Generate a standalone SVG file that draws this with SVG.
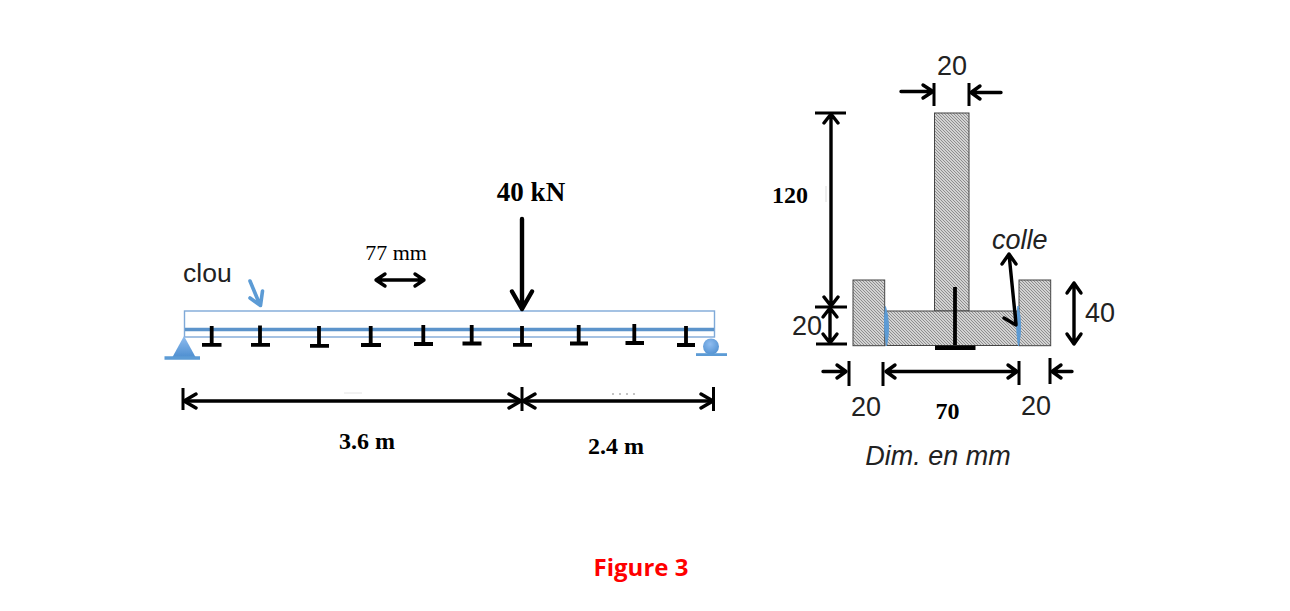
<svg xmlns="http://www.w3.org/2000/svg" width="1290" height="611" viewBox="0 0 1290 611">
<style>
.k{fill:none;stroke:#000;stroke-width:3.4;stroke-linecap:round;stroke-linejoin:round}
.t{fill:none;stroke:#000;stroke-width:3}
.n{fill:none;stroke:#000;stroke-width:3.8}
.sec{fill:url(#hatch);stroke:#444;stroke-width:1}
.sans{font-family:"Liberation Sans",Arial,sans-serif;font-size:27px;fill:#222}
.serif{font-family:"Liberation Serif","Times New Roman",serif;fill:#000}
.b{font-weight:bold}
.m{text-anchor:middle}
.blue{fill:#5b9bd5}
</style>
<defs>
<pattern id="hatch" width="3" height="3" patternUnits="userSpaceOnUse">
<rect width="3" height="3" fill="#d2d2d2"/>
<path d="M-1,-1L4,4M-1,2L1,4M2,-1L4,1" stroke="#777" stroke-width="0.75"/>
</pattern>
<radialGradient id="ball" cx="45%" cy="35%" r="70%"><stop offset="0" stop-color="#8fbdf0"/><stop offset="1" stop-color="#4f8fd0"/></radialGradient>
<linearGradient id="tri" x1="0" y1="0" x2="0" y2="1"><stop offset="0" stop-color="#8fbdf0"/><stop offset="1" stop-color="#4f8fd0"/></linearGradient>
<filter id="soft" x="-5%" y="-5%" width="110%" height="110%"><feGaussianBlur stdDeviation="0.5"/></filter>
</defs>

<g id="beam" filter="url(#soft)">
<rect x="184.500" y="311" width="530" height="26" fill="none" stroke="#7fa9d8" stroke-width="1.400"/>
<line x1="185" y1="329.500" x2="714" y2="329.500" stroke="#5b94cb" stroke-width="3.400"/>
</g>

<g id="nails" filter="url(#soft)">
<path class="n" d="M211.700,326V345M202,344.800H221.500"/>
<path class="n" d="M260,325.500V345M251,344.800H270"/>
<path class="n" d="M319,326V346M310,345.800H329"/>
<path class="n" d="M370.700,326V345M361,345H381"/>
<path class="n" d="M423.300,325V344M414,344H433"/>
<path class="n" d="M471.700,325V344M462.500,343.500H481.500"/>
<path class="n" d="M522,326V345M513,344.800H532"/>
<path class="n" d="M578.700,325V344M570,343.500H588"/>
<path class="n" d="M634.300,324V343M625.500,343H644"/>
<path class="n" d="M686,326V345M677,345H695"/>
</g>

<g id="support-pin" filter="url(#soft)">
<path fill="url(#tri)" d="M184,336L172.500,357H195.500Z"/>
<line x1="164.500" y1="358" x2="200" y2="358" stroke="#5b9bd5" stroke-width="3.600"/>
</g>
<g id="support-roller" filter="url(#soft)">
<circle cx="711" cy="346.500" r="8" fill="url(#ball)"/>
<line x1="696" y1="355" x2="727" y2="355" stroke="#5b9bd5" stroke-width="3.600"/>
</g>

<g id="section" filter="url(#soft)">
<rect class="sec" x="934.500" y="113" width="34.500" height="198"/>
<rect class="sec" x="886" y="311" width="133" height="34.500"/>
<rect class="sec" x="853" y="280" width="31.700" height="65.700"/>
<rect class="sec" x="1019" y="280" width="31.700" height="65.700"/>
<path d="M885.500,306.500Q891,325 886.500,346Q883,325 885.500,306.500Z" fill="#5b9bd5" stroke="#5b9bd5"/>
<path d="M1018,306Q1023,325 1018.500,346Q1015,325 1018,306Z" fill="#5b9bd5" stroke="#5b9bd5"/>
<line x1="955" y1="287" x2="955" y2="345" stroke="#000" stroke-width="3.800"/>
<line x1="935" y1="347.700" x2="975.500" y2="347.700" stroke="#000" stroke-width="4.400"/>
</g>

<g id="connectors" filter="url(#soft)">
<path class="k" style="stroke-width:4.400" d="M522,219V309M512,291.500L522,309L532,291.500"/>
<path class="k" d="M376,280H424M385,274L376,280L385,286M415,274L424,280L415,286"/>
<path d="M250,281L260,305M262.500,291L260.500,305.500L250,298" fill="none" stroke="#5b9bd5" stroke-width="3.600" stroke-linecap="round" stroke-linejoin="round"/>

<path class="k" d="M184,401H713"/>
<path class="t" d="M183,388V410M522,387V411M713.500,387V411"/>
<path class="k" d="M196,394L184,401L196,408M509,394L521,401L509,408M535,394L523,401L535,408M701,394L713,401L701,408"/>
<path d="M612,394H640" stroke="#888" stroke-width="1" stroke-dasharray="2 5" fill="none"/>
<path d="M344,393H362" stroke="#ddd" stroke-width="0.800" fill="none"/>

<path class="t" d="M815,113H846M815,307H847M816,344H847"/>
<path class="k" d="M831,114V306M824,123L831,114L838,123M824,297L831,306L838,297"/>
<path class="k" d="M830,308V343M823,317L830,308L837,317M823,334L830,343L837,334"/>
<path d="M826,186V202" stroke="#ddd" stroke-width="1" fill="none"/>

<path class="t" d="M934,83V106M969,83V106"/>
<path class="k" d="M901,91.500H933M923,85L933,91.500L923,98M1001,92.500H971M980,86L971,92.500L980,99"/>

<path class="k" d="M1074,283V344M1067,293L1074,283L1081,293M1067,334L1074,344L1081,334"/>

<path class="t" d="M849,361V386M883,362V386M1019,361V385M1050,358V384"/>
<path class="k" d="M823,371.500H846M837,365L846,371.500L837,378"/>
<path class="k" d="M886,371.500H1017M895,365L886,371.500L895,378M1008,365L1017,371.500L1008,378"/>
<path class="k" d="M1072,371.500H1052M1061,365L1052,371.500L1061,378"/>

<path class="k" d="M1009,254L1016,324M1002,264L1009,254L1016,264M1004,318L1016,325L1015,312"/>
</g>

<g id="labels">
<text class="serif b m" x="531" y="201" font-size="27">40 kN</text>
<text class="serif m" x="396" y="260" font-size="22">77 mm</text>
<text class="sans" x="183" y="282" style="font-size:26.500px">clou</text>
<text class="serif b m" x="367" y="449" font-size="24">3.6 m</text>
<text class="serif b m" x="616" y="454" font-size="24">2.4 m</text>
<text class="serif b" x="772" y="203" font-size="24">120</text>
<text class="sans m" x="952" y="75">20</text>
<text class="sans" x="992" y="249" font-style="italic">colle</text>
<text class="sans" x="1085" y="322">40</text>
<text class="sans" x="792" y="335">20</text>
<text class="sans m" x="866" y="416">20</text>
<text class="serif b m" x="947.500" y="419" font-size="24">70</text>
<text class="sans m" x="1036" y="415">20</text>
<text class="sans m" x="938" y="465" font-style="italic">Dim. en mm</text>
<text class="b m" x="641" y="576" font-size="24" fill="#ff0000" font-family="'Open Sans','Noto Sans',sans-serif">Figure 3</text>
</g>
</svg>
